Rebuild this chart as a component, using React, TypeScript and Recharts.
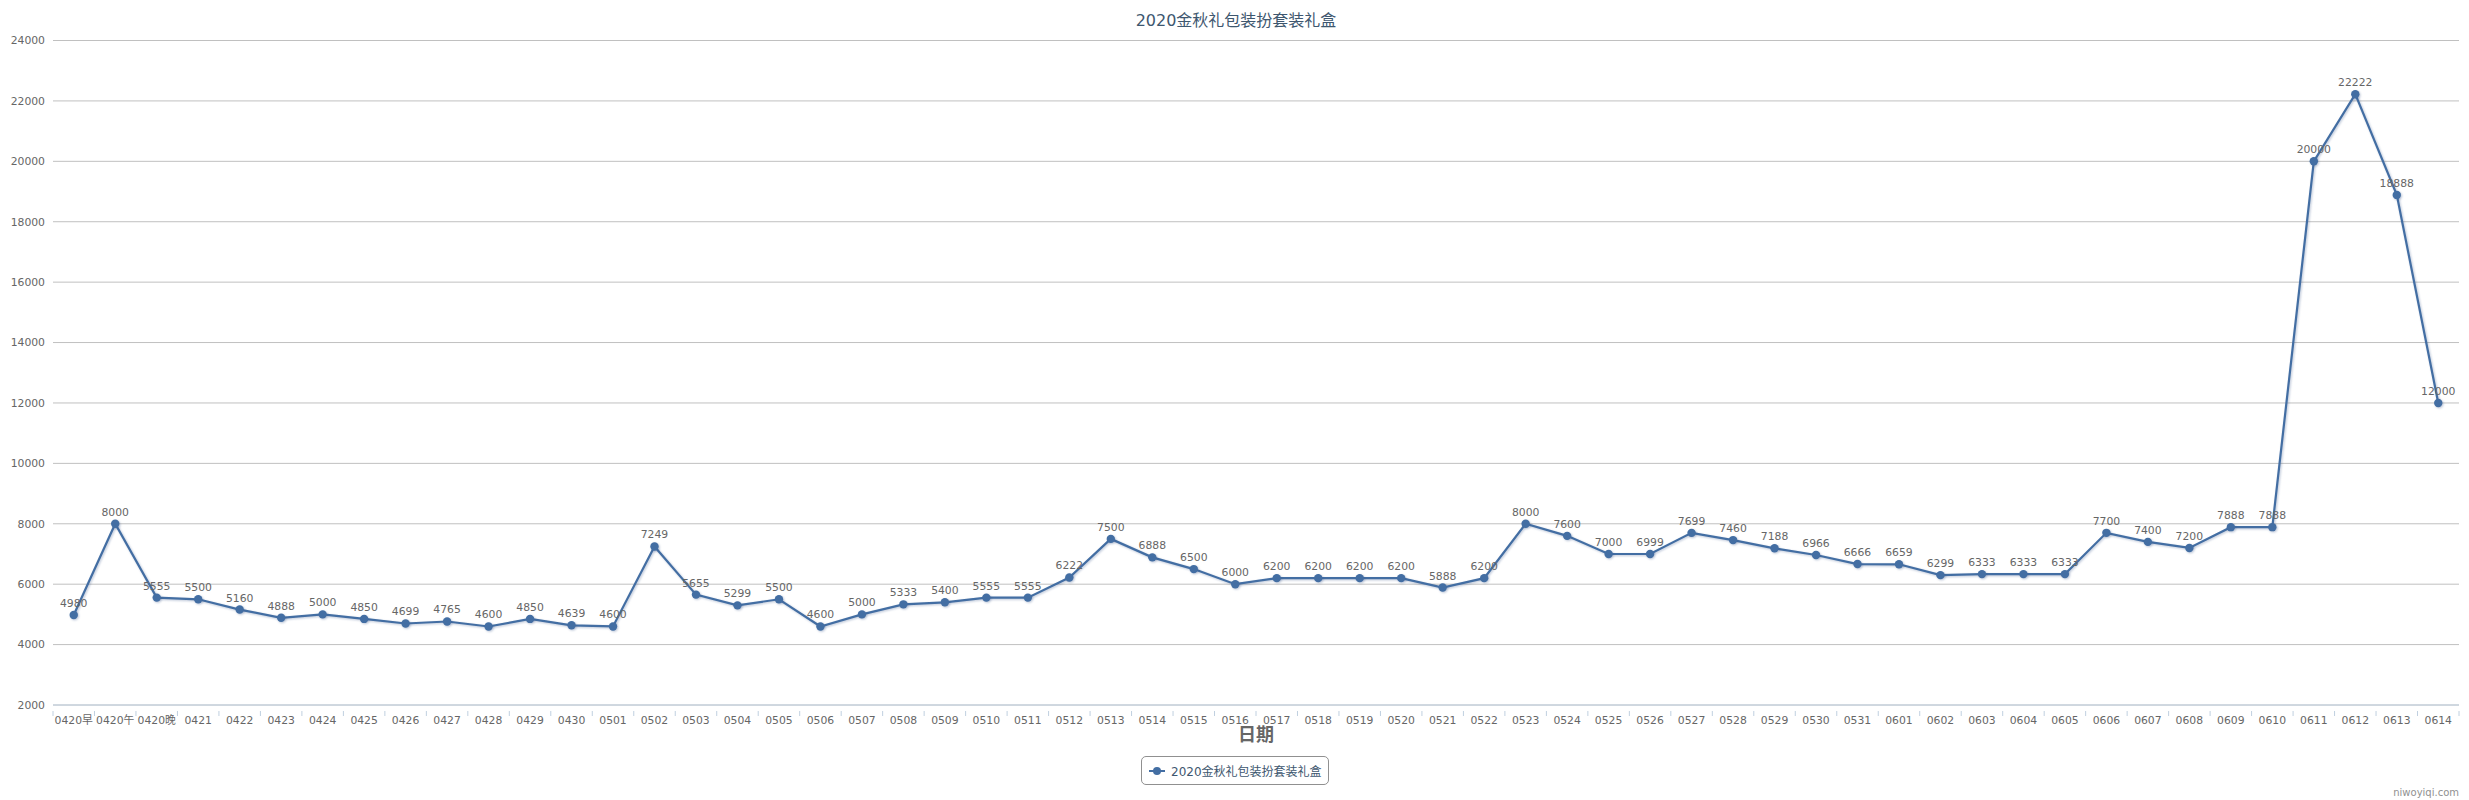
import React from "react";
import {
  LineChart, Line, XAxis, YAxis, CartesianGrid, Legend, LabelList,
} from "recharts";

const TITLE = "2020金秋礼包装扮套装礼盒";
const FONT = "'DejaVu Sans', 'Noto Sans CJK SC', sans-serif";
const BLUE = "#436ea3";
const AXIS = "#C0D0E0";

const DAYS = [
  "0420早", "0420午", "0420晚", "0421", "0422", "0423", "0424", "0425", "0426", "0427",
  "0428", "0429", "0430", "0501", "0502", "0503", "0504", "0505", "0506", "0507",
  "0508", "0509", "0510", "0511", "0512", "0513", "0514", "0515", "0516", "0517",
  "0518", "0519", "0520", "0521", "0522", "0523", "0524", "0525", "0526", "0527",
  "0528", "0529", "0530", "0531", "0601", "0602", "0603", "0604", "0605", "0606",
  "0607", "0608", "0609", "0610", "0611", "0612", "0613", "0614",
];

const PRICES = [
  4980, 8000, 5555, 5500, 5160, 4888, 5000, 4850, 4699, 4765,
  4600, 4850, 4639, 4600, 7249, 5655, 5299, 5500, 4600, 5000,
  5333, 5400, 5555, 5555, 6222, 7500, 6888, 6500, 6000, 6200,
  6200, 6200, 6200, 5888, 6200, 8000, 7600, 7000, 6999, 7699,
  7460, 7188, 6966, 6666, 6659, 6299, 6333, 6333, 6333, 7700,
  7400, 7200, 7888, 7888, 20000, 22222, 18888, 12000,
];

const Y_TICKS = [2000, 4000, 6000, 8000, 10000, 12000, 14000, 16000, 18000, 20000, 22000, 24000];

const data = DAYS.map((day, i) => ({ day, price: PRICES[i] }));

// Label plus the tick marks, which sit on the category edges rather than the centres
function DayTick({ x, y, width, index, payload }: any) {
  const half = width / DAYS.length / 2;
  return (
    <g>
      <line x1={x - half} x2={x - half} y1={y - 1} y2={y + 4} stroke={AXIS} />
      {index === DAYS.length - 1 && (
        <line x1={x + half} x2={x + half} y1={y - 1} y2={y + 4} stroke={AXIS} />
      )}
      <text x={x} y={y + 12} textAnchor="middle" fill="#666" fontSize={10.8} fontFamily={FONT}>
        {payload.value}
      </text>
    </g>
  );
}

function LegendBox() {
  return (
    <div
      style={{
        boxSizing: "border-box", width: 188, height: 29, border: "1px solid #909090",
        borderRadius: 5, background: "#fff", display: "flex", alignItems: "center",
        fontFamily: FONT, fontSize: 12, color: "#3E576F", whiteSpace: "nowrap",
      }}
    >
      <svg width={29} height={12} style={{ flex: "none" }}>
        <line x1={7} x2={23} y1={6} y2={6} stroke={BLUE} strokeWidth={2} />
        <circle cx={15} cy={6} r={4} fill={BLUE} />
      </svg>
      <span>{TITLE}</span>
    </div>
  );
}

export default function App() {
  return (
    <div style={{ position: "absolute", left: 0, top: 0, width: 2469, height: 800, background: "#fff" }}>
      <LineChart
        width={2469}
        height={800}
        data={data}
        margin={{ top: 40.5, right: 10, bottom: 94, left: 0 }}
      >
        <CartesianGrid vertical={false} stroke="#C0C0C0" />
        <XAxis
          dataKey="day"
          scale="band"
          interval={0}
          height={1}
          axisLine={{ stroke: AXIS }}
          tickLine={false}
          tickMargin={1}
          tick={<DayTick />}
          label={{
            value: "日期", position: "bottom", offset: 22,
            style: { fill: "#666", fontSize: 18, fontWeight: "bold", fontFamily: FONT },
          }}
        />
        <YAxis
          width={53}
          domain={[2000, 24000]}
          ticks={Y_TICKS}
          interval={0}
          axisLine={false}
          tickLine={false}
          tick={{ fill: "#666", fontSize: 10.8, fontFamily: FONT }}
        />
        <Legend
          layout="horizontal"
          verticalAlign="middle"
          content={() => <LegendBox />}
          wrapperStyle={{ position: "absolute", left: 1141, top: 756, width: 188, height: 29 }}
        />
        <Line
          dataKey="price"
          stroke={BLUE}
          strokeWidth={2.2}
          style={{ filter: "drop-shadow(1px 1px 1px rgba(60,90,140,0.35))" }}
          dot={{ r: 4.2, fill: BLUE, stroke: BLUE, strokeWidth: 0 }}
          isAnimationActive={false}
        >
          <LabelList
            dataKey="price"
            position="top"
            offset={8}
            style={{ fill: "#666", fontSize: 10.8, fontFamily: FONT }}
          />
        </Line>
        <text x={1236} y={25.5} textAnchor="middle" fill="#3E576F" fontSize={16} fontFamily={FONT}>
          {TITLE}
        </text>
        <text x={2459} y={796} textAnchor="end" fill="#909090" fontSize={10} fontFamily={FONT}>
          niwoyiqi.com
        </text>
      </LineChart>
    </div>
  );
}
